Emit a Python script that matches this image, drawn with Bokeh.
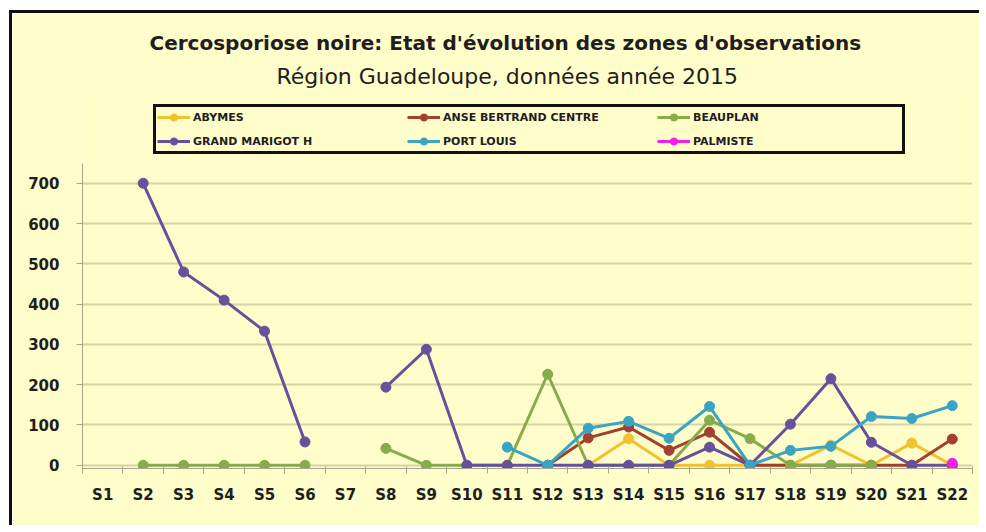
from bokeh.plotting import figure
from bokeh.models import Range1d, FixedTicker, Legend, LegendItem, Title
from bokeh.embed import file_html
from bokeh.resources import INLINE

nan = float("nan")

weeks = ["S1", "S2", "S3", "S4", "S5", "S6", "S7", "S8", "S9", "S10", "S11",
         "S12", "S13", "S14", "S15", "S16", "S17", "S18", "S19", "S20", "S21", "S22"]
y_ticks = [0, 100, 200, 300, 400, 500, 600, 700]

abymes = [nan, nan, nan, nan, nan, nan, nan, nan, nan, nan, nan, nan,
          0, 66, 0, 0, 0, 0, 50, 0, 55, 0]
anse_bertrand = [nan, nan, nan, nan, nan, nan, nan, nan, nan, nan, nan, 0,
                 68, 95, 37, 82, 0, 0, 0, 0, 0, 65]
beauplan = [nan, 0, 0, 0, 0, 0, nan, 42, 0, 0, 0, 226,
            0, 0, 0, 112, 66, 0, 0, 0, nan, nan]
grand_marigot = [nan, 700, 480, 410, 333, 58, nan, 194, 288, 0, 0, 0,
                 0, 0, 0, 45, 0, 102, 215, 57, 0, 0]
port_louis = [nan, nan, nan, nan, nan, nan, nan, nan, nan, nan, 45, 0,
              92, 109, 67, 146, 0, 37, 47, 121, 116, 148]
palmiste = [nan, nan, nan, nan, nan, nan, nan, nan, nan, nan, nan, nan,
            nan, nan, nan, nan, nan, nan, nan, nan, nan, 5]

series = [
    ("ABYMES", abymes, "#F2C12E"),
    ("ANSE BERTRAND CENTRE", anse_bertrand, "#A2412F"),
    ("BEAUPLAN", beauplan, "#86AC4C"),
    ("GRAND MARIGOT H", grand_marigot, "#66519B"),
    ("PORT LOUIS", port_louis, "#3BA3C3"),
    ("PALMISTE", palmiste, "#F41EE6"),
]

BG = "#FFFDCA"
FONT = "DejaVu Sans"

x = list(range(1, len(weeks) + 1))

p = figure(width=970, height=515, output_backend="svg", toolbar_location=None,
           x_range=Range1d(0.5, len(weeks) + 0.5), y_range=Range1d(-8, 918),
           min_border_left=70, min_border_right=10, min_border_bottom=60,
           min_border_top=82, title=None)
p.background_fill_color = BG
p.border_fill_color = BG
p.outline_line_color = None
p.styles = {"border-left": "3px solid #111", "border-top": "3px solid #111",
            "margin-left": "9px", "margin-top": "10px"}

items = []
for name, vals, col in series:
    lr = p.line(x, vals, line_color=col, line_width=3, line_join="round")
    sr = p.scatter(x, vals, size=10, fill_color=col, line_color=col)
    items.append(LegendItem(label=name, renderers=[lr, sr]))

# axes
p.xaxis.ticker = FixedTicker(ticks=x, minor_ticks=[i + 0.5 for i in range(0, len(weeks) + 1)])
p.xaxis.major_label_overrides = {i: w for i, w in zip(x, weeks)}
p.xaxis.major_tick_line_color = None
p.xaxis.major_tick_out = 0
p.xaxis.major_tick_in = 0
p.xaxis.minor_tick_out = 5
p.xaxis.minor_tick_in = 2
p.xaxis.minor_tick_line_color = "#A9A58C"
p.xaxis.axis_line_color = "#A9A58C"
p.xaxis.major_label_standoff = 12

p.yaxis.ticker = FixedTicker(ticks=y_ticks)
p.yaxis.bounds = (-8, 750)
p.yaxis.major_tick_out = 6
p.yaxis.major_tick_in = 0
p.yaxis.minor_tick_line_color = None
p.yaxis.major_tick_line_color = "#A9A58C"
p.yaxis.axis_line_color = "#A9A58C"
p.yaxis.major_label_standoff = 17

for ax in (p.xaxis, p.yaxis):
    ax.major_label_text_font = FONT
    ax.major_label_text_font_style = "bold"
    ax.major_label_text_font_size = "15px"
    ax.major_label_text_color = "#1E1E1E"

p.xgrid.grid_line_color = None
p.ygrid.grid_line_color = "#D8D4A6"
p.ygrid.grid_line_width = 2

legend = Legend(items=items, orientation="horizontal", ncols=3, location=(71, 314),
                border_line_color="#111111", border_line_width=3, border_line_alpha=1,
                background_fill_color=BG, background_fill_alpha=1,
                label_text_font=FONT, label_text_font_style="bold",
                label_text_font_size="11px", label_text_color="#1E1E1E",
                glyph_width=33, glyph_height=18, label_standoff=3,
                label_width=208, spacing=6, padding=1, margin=0)
p.add_layout(legend, "center")

p.add_layout(Title(text="Région Guadeloupe, données année 2015", align="left",
                   text_font=FONT, text_font_size="22px", text_font_style="normal",
                   text_color="#1E1E1E", offset=194, standoff=14), "above")
p.add_layout(Title(text="Cercosporiose noire: Etat d'évolution des zones d'observations",
                   align="left", text_font=FONT, text_font_size="20px",
                   text_font_style="bold", text_color="#1E1E1E", offset=67,
                   standoff=0), "above")

open("out.html", "w").write(file_html(p, INLINE))
